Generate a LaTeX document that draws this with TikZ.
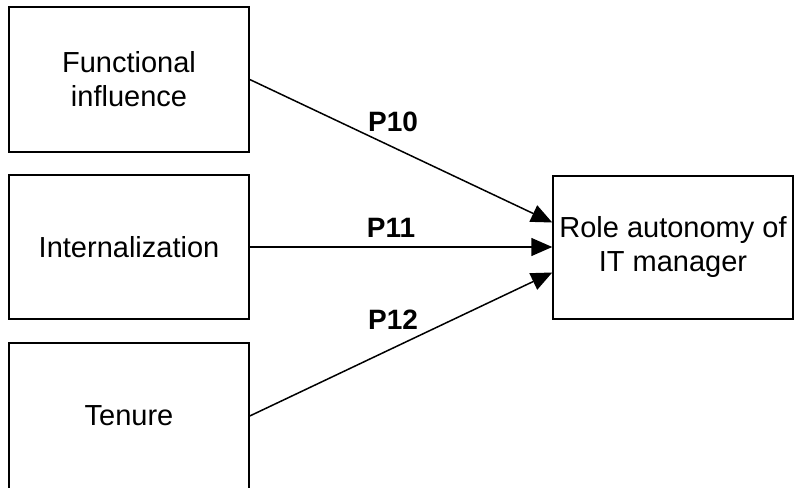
\documentclass[tikz,border=0pt]{standalone}
\usepackage{fontspec}
\setmainfont{Liberation Sans}
\usetikzlibrary{arrows.meta,calc}
\begin{document}
\begin{tikzpicture}[x=1pt,y=1pt,
  box/.style={draw=black, line width=1.5pt, minimum width=240pt, inner sep=0pt,
    align=center, font=\fontsize{29}{34}\selectfont},
  link/.style={line width=1.5pt, -{Triangle[length=21pt,width=18pt]}},
  plabel/.style={font=\fontsize{28}{34}\selectfont\bfseries}]
  \useasboundingbox (0,0) rectangle (794,487);
  % source constructs
  \node[box, minimum height=145pt] (fi) at (129,407.5) {Functional\\influence};
  \node[box, minimum height=144pt] (in) at (129,240) {Internalization};
  \node[box, minimum height=146pt] (te) at (129,71) {Tenure};
  % outcome
  \node[box, minimum height=143pt] (ra) at (673,239.5) {Role autonomy of\\IT manager};
  % propositions
  \draw[link] (fi.east) -- ($(ra.west)+(0,25)$);
  \draw[link] (in.east) -- (ra.west |- in.east);
  \draw[link] (te.east) -- ($(ra.west)+(0,-25)$);
  \node[plabel] (p10) at (393,365) {P10};
  \node[plabel] (p11) at (391,259) {P11};
  \node[plabel] (p12) at (393,167) {P12};
\end{tikzpicture}
\end{document}
